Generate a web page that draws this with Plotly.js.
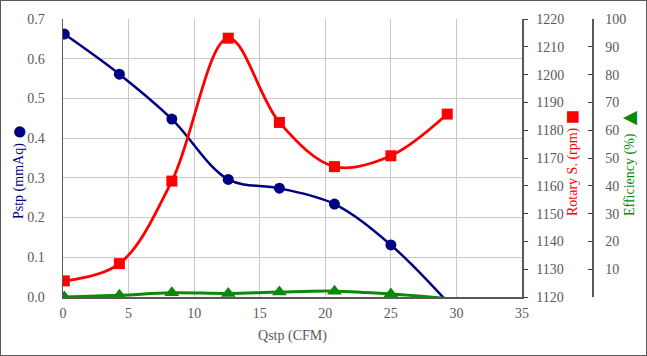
<!DOCTYPE html>
<html>
<head>
<meta charset="utf-8">
<script src="https://cdn.plot.ly/plotly-3.0.1.min.js"></script>
<style>
html,body{margin:0;padding:0;background:#fff;}
#wrap{position:relative;width:647px;height:356px;}
#chart{position:absolute;left:0;top:0;width:647px;height:356px;}
#frame{position:absolute;left:0;top:0;width:647px;height:356px;box-sizing:border-box;border:1px solid #595959;pointer-events:none;}
</style>
</head>
<body>
<div id="wrap"><div id="chart"></div><div id="frame"></div></div>
<script>
// Flow rate (CFM)
const qstp = [0.1, 4.3, 8.3, 12.6, 16.5, 20.7, 25.0, 29.3];
// Static pressure (mmAq)
const pstp = [0.662, 0.561, 0.448, 0.296, 0.274, 0.234, 0.131, -0.012];
// Rotary speed (rpm)
const rotary = [1125.8, 1132.0, 1161.7, 1213.1, 1182.8, 1166.9, 1170.8, 1185.8];
// Efficiency (%)
const efficiency = [0.0, 0.6, 1.5, 1.3, 1.8, 2.1, 1.1, -0.5];

const xTicks = [0, 5, 10, 15, 20, 25, 30, 35];
const pTicks = [0, 0.1, 0.2, 0.3, 0.4, 0.5, 0.6, 0.7];
const rTicks = [1120, 1130, 1140, 1150, 1160, 1170, 1180, 1190, 1200, 1210, 1220];
const eTicks = [10, 20, 30, 40, 50, 60, 70, 80, 90, 100];

const FONT = 'Liberation Serif';
const FS = 14;
const TICKC = '#595959';
const lastHidden = (n, s) => Array.from({length: n}, (_, i) => i === n - 1 ? 0 : s);

const traces = [
  {x: qstp, y: pstp, yaxis: 'y', type: 'scatter', mode: 'lines+markers', name: 'Pstp',
   line: {color: '#000080', width: 2.5, shape: 'spline', smoothing: 1},
   marker: {symbol: 'circle', color: '#000080', opacity: 1, size: lastHidden(pstp.length, 11), line: {width: 0}}},
  {x: qstp, y: rotary, yaxis: 'y2', type: 'scatter', mode: 'lines+markers', name: 'Rotary S.',
   line: {color: '#ff0000', width: 2.8, shape: 'spline', smoothing: 1},
   marker: {symbol: 'square', color: '#ff0000', opacity: 1, size: 11, line: {width: 0}}},
  {x: qstp, y: efficiency, yaxis: 'y3', type: 'scatter', mode: 'lines+markers', name: 'Efficiency',
   line: {color: '#0a8a0a', width: 3, shape: 'spline', smoothing: 1},
   marker: {symbol: 'triangle-up', color: '#0a8a0a', opacity: 1, size: lastHidden(efficiency.length, 13), line: {width: 0}}}
];

const plotW = 574, plotH = 278, L = 63, B = 297;
const px = v => (v - L) / plotW;
const py = v => (B - v) / plotH;
const tf = {family: FONT, size: FS, color: TICKC};

const yTitle = (text, color, x, y) => ({
  text: text, textangle: -90, showarrow: false,
  xref: 'paper', yref: 'paper', x: px(x), y: py(y), xanchor: 'center', yanchor: 'middle',
  font: {family: FONT, size: FS, color: color}
});

const layout = {
  width: 647, height: 356,
  margin: {l: 63, r: 10, t: 19, b: 59},
  paper_bgcolor: '#ffffff', plot_bgcolor: '#ffffff',
  showlegend: false,
  font: {family: FONT, size: FS, color: TICKC},
  xaxis: {
    domain: [0, 459 / plotW], range: [0, 35], tickvals: xTicks, ticktext: xTicks.map(String),
    tickfont: tf,
    showgrid: true, gridcolor: '#c8c8c8', gridwidth: 1,
    showline: true, linecolor: '#595959', linewidth: 1.5, mirror: false,
    ticks: '', ticklabelstandoff: 3, zeroline: false,
    title: {text: 'Qstp (CFM)', font: {family: FONT, size: FS, color: TICKC}, standoff: 10}
  },
  yaxis: {
    range: [0, 0.7], tickvals: pTicks, ticktext: pTicks.map(v => v.toFixed(1)),
    tickfont: tf,
    showgrid: true, gridcolor: '#c8c8c8', gridwidth: 1,
    showline: true, linecolor: '#595959', linewidth: 1.5,
    ticks: '', ticklabelstandoff: 14, zeroline: false
  },
  yaxis2: {
    overlaying: 'y', side: 'right', anchor: 'x',
    range: [1120, 1220], tickvals: rTicks, ticktext: rTicks.map(String),
    tickfont: tf,
    showgrid: false, showline: true, linecolor: '#595959', linewidth: 1.5,
    ticks: 'outside', ticklen: 4, tickcolor: '#404040', ticklabelstandoff: 6, zeroline: false
  },
  yaxis3: {
    overlaying: 'y', side: 'right', anchor: 'free', position: px(592),
    range: [0, 100], tickvals: eTicks, ticktext: eTicks.map(String),
    tickfont: tf,
    showgrid: false, showline: true, linecolor: '#595959', linewidth: 1.5,
    ticks: 'inside', ticklen: 4, tickcolor: '#404040', ticklabelstandoff: 9, zeroline: false
  },
  annotations: [
    yTitle('Pstp (mmAq) <span style="font-size:26px;baseline-shift:-4px">●</span>', '#000080', 18, 172),
    yTitle('Rotary S. (rpm) <span style="font-size:24px;baseline-shift:-3px">■</span>', '#ff0000', 572, 163),
    yTitle('Efficiency (%) <span style="font-size:24px;baseline-shift:-3px">▲</span>', '#0a8a0a', 629, 161)
  ]
};

Plotly.newPlot('chart', traces, layout, {staticPlot: true, displayModeBar: false});
</script>
</body>
</html>
